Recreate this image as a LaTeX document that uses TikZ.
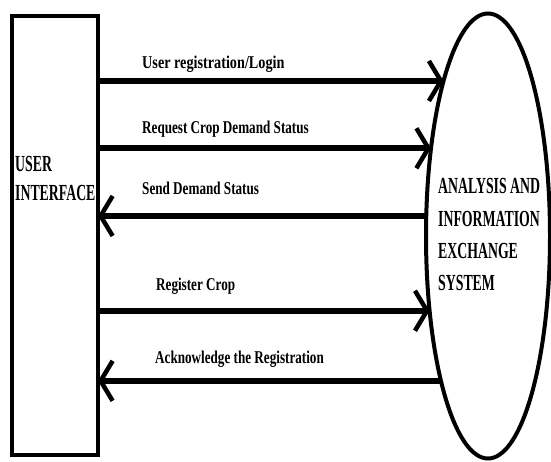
\documentclass[tikz,border=0pt]{standalone}
\usepackage{fontspec}
\setmainfont{Liberation Serif}
\newfontfamily\lblfont[FakeStretch=0.73]{Liberation Serif}
\newfontfamily\lblwidefont[FakeStretch=0.79]{Liberation Serif}
\newfontfamily\boxfont[FakeStretch=0.60]{Liberation Serif}
\usetikzlibrary{arrows.meta,shapes.geometric}
\tikzset{
  flow/.style={line width=6pt,-{Straight Barb[length=12pt,width=40pt,line width=4.5pt]}},
  lbl/.style={anchor=base west,inner sep=0pt,font=\lblfont\bfseries\fontsize{18}{20}\selectfont},
  lblwide/.style={lbl,font=\lblwidefont\bfseries\fontsize{18}{20}\selectfont},
  boxtxt/.style={anchor=base west,inner sep=0pt,font=\boxfont\bfseries\fontsize{23}{26}\selectfont},
  entity/.style={draw,line width=4.5pt,inner sep=0pt,outer sep=0pt},
  process/.style={ellipse,draw,line width=4pt,inner sep=0pt,outer sep=0pt}
}
\begin{document}
\begin{tikzpicture}[x=1pt,y=-1pt]
\useasboundingbox (0,0) rectangle (551,461);
\fill[white] (0,0) rectangle (551,461);
\node[entity,minimum width=86pt,minimum height=439pt] (ui) at (55,235.5) {};
\node[process,minimum width=124pt,minimum height=445pt] (aies) at (488,236) {};

\node[boxtxt] (ui1) at (15,171) {USER};
\node[boxtxt] (ui2) at (15,200) {INTERFACE};
\node[boxtxt] (a1) at (438,193.5) {ANALYSIS AND};
\node[boxtxt] (a2) at (438,226) {INFORMATION};
\node[boxtxt] (a3) at (438,258.5) {EXCHANGE};
\node[boxtxt] (a4) at (438,290) {SYSTEM};

\draw[flow] (ui.east |- aies.106.7) -- (aies.106.7);
\draw[flow] (ui.east |- aies.123.4) -- (aies.123.4);
\draw[flow] (aies.162.5) -- (ui.east |- aies.162.5);
\draw[flow] (ui.east |- aies.232.7) -- (aies.232.7);
\draw[flow] (aies.252.9) -- (ui.east |- aies.252.9);

\node[lblwide] (l1) at (142,68.5) {User registration/Login};
\node[lbl] (l2) at (142,133) {Request Crop Demand Status};
\node[lbl] (l3) at (142,194) {Send Demand Status};
\node[lbl] (l4) at (156,290) {Register Crop};
\node[lbl] (l5) at (155,363) {Acknowledge the Registration};
\end{tikzpicture}
\end{document}
